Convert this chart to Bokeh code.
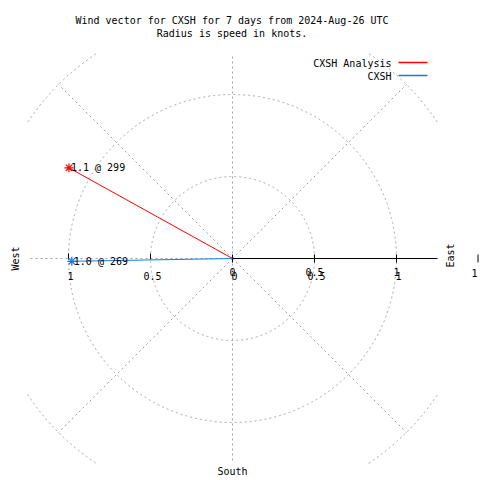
import numpy as np
from bokeh.plotting import figure
from bokeh.models import Range1d, ColumnDataSource
from bokeh.core.properties import value
from bokeh.embed import file_html
from bokeh.resources import INLINE

# ---- data ----
series_names = ["CXSH Analysis", "CXSH"]
speeds = [1.14, 0.98]          # knots
directions = [299, 269]        # compass degrees
ring_values = [0.5, 1.0, 1.5]
spoke_angles = [45, 90, 135, 180, 225, 270, 315]   # math degrees (east axis drawn solid)
tick_values = [-1.0, -0.5, 0.0, 0.5, 1.0]
tick_labels = ["1", "0.5", "0", "0.5", "1"]
right_tick_values = [0.0, 0.5, 1.0]
right_tick_labels = ["0", "0.5", "1"]
title_lines = ["Wind vector for CXSH for 7 days from 2024-Aug-26 UTC",
               "Radius is speed in knots."]

# ---- style ----
series_colors = ["#ff0000", "#1a7ae2"]
FONT = value("DejaVu Sans Mono")
FS = "10px"
GRID = "#a0a0a0"
BOX = 1.25

# pixel helpers (layout only): centre of the polar plot and scale
OFF = 0
CX, CY, S = 232.0, 258.0, 164.0
def X(px):
    return (px - CX) / S
def Y(py):
    return (CY - py) / S

W, H = 480, 480
p = figure(width=W, height=H, output_backend="svg", toolbar_location=None,
           x_range=Range1d(X(OFF), X(OFF + W)), y_range=Range1d(Y(OFF + H), Y(OFF)),
           min_border=0, outline_line_color=None)
p.axis.visible = False
p.grid.visible = False
p.background_fill_color = "white"
p.border_fill_color = "white"

# ---- grid rings (clipped to box) ----
th = np.linspace(0, 2 * np.pi, 2000)
for r in ring_values:
    xs = r * np.cos(th)
    ys = r * np.sin(th)
    mask = (np.abs(xs) > BOX + 1e-9) | (np.abs(ys) > BOX + 1e-9)
    xs = xs.copy(); ys = ys.copy()
    xs[mask] = np.nan; ys[mask] = np.nan
    p.line(xs, ys, line_color=GRID, line_dash="2 3", line_width=1)

# ---- spokes ----
sx, sy = [], []
for a in spoke_angles:
    ar = np.radians(a)
    c, s = np.cos(ar), np.sin(ar)
    L = min(max(ring_values), BOX / max(abs(c), abs(s)))
    sx.append([0, L * c]); sy.append([0, L * s])
p.multi_line(sx, sy, line_color=GRID, line_dash="2 3", line_width=1)

# ---- east axis with ticks ----
p.line([0, BOX], [0, 0], line_color="black", line_width=1)
tl = 4 / S
p.segment(x0=right_tick_values, y0=[-tl] * 3, x1=right_tick_values, y1=[tl] * 3,
          line_color="black", line_width=1)
left_ticks = [v for v in tick_values if v < 0]
p.segment(x0=left_ticks, y0=[-1 / S] * len(left_ticks), x1=left_ticks,
          y1=[5 / S] * len(left_ticks), line_color="black", line_width=1)

# tick labels (two overlapping sets as in reference)
p.text(x=[v + 2 / S for v in tick_values], y=[Y(275.5)] * len(tick_values),
       text=tick_labels, text_font=FONT, text_font_size=FS,
       text_align="center", text_baseline="middle", text_color="black")
p.text(x=right_tick_values, y=[Y(271)] * 3, text=right_tick_labels,
       text_font=FONT, text_font_size=FS,
       text_align="center", text_baseline="middle", text_color="black")

# far right stray tick/label
p.segment(x0=[X(477.5)], y0=[Y(262)], x1=[X(477.5)], y1=[Y(254)], line_color="black")
p.text(x=[X(474)], y=[Y(272)], text=["1"], text_font=FONT, text_font_size=FS,
       text_align="center", text_baseline="middle", text_color="black")

# ---- compass labels ----
p.text(x=[X(15), X(450)], y=[Y(258), Y(255)], text=["West", "East"], angle=np.pi / 2,
       text_font=FONT, text_font_size=FS, text_align="center", text_baseline="middle",
       text_color="black")
p.text(x=[X(232)], y=[Y(471)], text=["South"], text_font=FONT, text_font_size=FS,
       text_align="center", text_baseline="middle", text_color="black")

# ---- wind vectors ----
rad = np.radians(directions)
vx = [r * np.sin(a) for r, a in zip(speeds, rad)]
vy = [r * np.cos(a) for r, a in zip(speeds, rad)]
labels = [f"{r:.1f} @ {d}" for r, d in zip(speeds, directions)]
for i in range(len(speeds)):
    p.line([0, vx[i]], [0, vy[i]], line_color=series_colors[i], line_width=1)
src = ColumnDataSource(dict(x=vx, y=vy, t=labels, c=series_colors))
p.scatter("x", "y", source=src, marker="asterisk", size=9, line_color="c", line_width=1.2)
p.text("x", "y", text="t", source=src, x_offset=2, text_font=FONT, text_font_size=FS,
       text_align="left", text_baseline="middle", text_color="black")

# ---- legend ----
leg_y = [Y(62.5), Y(75.5)]
p.text(x=[X(391)] * 2, y=leg_y, text=series_names, text_font=FONT, text_font_size=FS,
       text_align="right", text_baseline="middle", text_color="black")
p.segment(x0=[X(398)] * 2, y0=[Y(62), Y(75)], x1=[X(427)] * 2, y1=[Y(62), Y(75)],
          line_color=series_colors, line_width=1.5)

# ---- title ----
p.text(x=[X(231.5)] * 2, y=[Y(20), Y(33)], text=title_lines, text_font=FONT,
       text_font_size=FS, text_align="center", text_baseline="middle", text_color="black")

open("out.html", "w").write(file_html(p, INLINE))
